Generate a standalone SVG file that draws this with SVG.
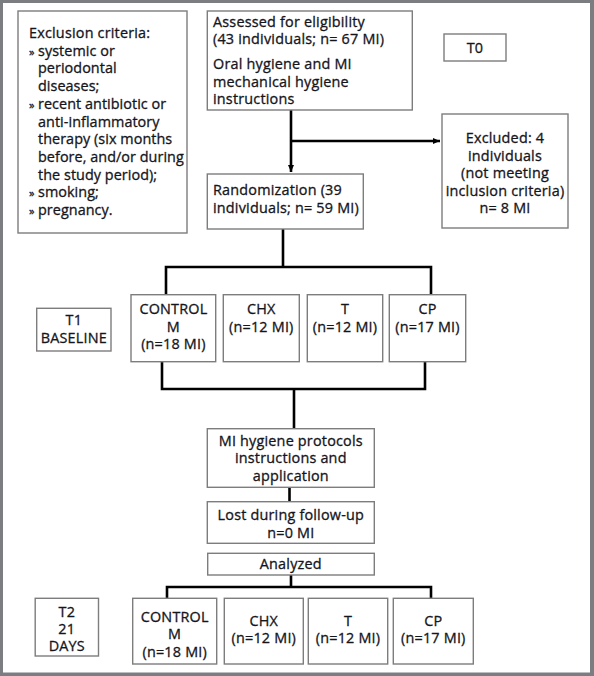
<svg xmlns="http://www.w3.org/2000/svg" width="594" height="676" viewBox="0 0 594 676">
<defs>
<style>
.bx{fill:#fff;stroke:#7d7d7d;stroke-width:1.4}
.t{font-family:"Open Sans","Noto Sans","DejaVu Sans",sans-serif;font-size:14.4px;fill:#15151c;stroke:#15151c;stroke-width:0.3px;font-weight:400;letter-spacing:0.2px}
.e{letter-spacing:0.05px}
.c{text-anchor:middle}
.ln{fill:none;stroke:#000;stroke-width:2.6}
</style>
<marker id="ah" markerWidth="8" markerHeight="8" refX="7" refY="4" orient="auto" markerUnits="userSpaceOnUse">
<path d="M0,1 L7,4 L0,7 Z" fill="#000"/>
</marker>
</defs>
<rect x="0" y="0" width="594" height="676" fill="#7b7d80"/>
<rect x="3" y="3" width="587" height="669.5" fill="#fff"/>

<g id="connectors">
<path class="ln" d="M291,110 V172" marker-end="url(#ah)"/>
<path class="ln" d="M291,141 H440" marker-end="url(#ah)"/>
<path class="ln" d="M283,229 V267 M166,295 V267 H431 V295"/>
<path class="ln" d="M162,362 V389 H425 V362 M294,389 V428.7"/>
<path class="ln" d="M289.5,487 V502"/>
<path class="ln" d="M291,575 V587 M167,598 V587 H431 V598"/>
</g>

<g id="exclusion">
<rect class="bx" x="18" y="11" width="169" height="222"/>
<text class="t" x="29" y="38" letter-spacing="0.4">Exclusion criteria:</text>
<text class="t e" x="29" y="55.7"><tspan font-size="11">»</tspan><tspan x="38">systemic or</tspan></text>
<text class="t e" x="38" y="73.4">periodontal</text>
<text class="t e" x="38" y="91.1">diseases;</text>
<text class="t e" x="29" y="108.8"><tspan font-size="11">»</tspan><tspan x="38">recent antibiotic or</tspan></text>
<text class="t e" x="38" y="126.5">anti-inflammatory</text>
<text class="t e" x="38" y="144.2">therapy (six months</text>
<text class="t e" x="38" y="161.9">before, and/or during</text>
<text class="t e" x="38" y="179.6">the study period);</text>
<text class="t e" x="29" y="197.3"><tspan font-size="11">»</tspan><tspan x="38">smoking;</tspan></text>
<text class="t e" x="29" y="215"><tspan font-size="11">»</tspan><tspan x="38">pregnancy.</tspan></text>
</g>

<g id="assessed">
<rect class="bx" x="207.3" y="11" width="205" height="99"/>
<text class="t" x="213" y="26.7" letter-spacing="0.4">Assessed for eligibility</text>
<text class="t" x="213" y="44.2" letter-spacing="0.35">(43 individuals; n= 67 MI)</text>
<text class="t" x="213" y="69">Oral hygiene and MI</text>
<text class="t" x="213" y="86.7">mechanical hygiene</text>
<text class="t" x="213" y="104.4">instructions</text>
</g>

<g id="t0">
<rect class="bx" x="444" y="34" width="62" height="27"/>
<text class="t c" x="475" y="52.6">T0</text>
</g>

<g id="excluded">
<rect class="bx" x="442" y="114" width="126" height="114"/>
<text class="t c" x="505" y="143.3">Excluded: 4</text>
<text class="t c" x="505" y="160.8">individuals</text>
<text class="t c" x="505" y="178.3">(not meeting</text>
<text class="t c" x="505" y="195.8" letter-spacing="0">inclusion criteria)</text>
<text class="t c" x="505" y="213.3">n= 8 MI</text>
</g>

<g id="randomization">
<rect class="bx" x="207.3" y="174" width="156" height="55"/>
<text class="t" x="213" y="195">Randomization (39</text>
<text class="t" x="213" y="212.7">individuals; n= 59 MI)</text>
</g>

<g id="t1">
<rect class="bx" x="36.7" y="308.3" width="74.3" height="42.7"/>
<text class="t c" x="73.8" y="325">T1</text>
<text class="t c" x="73.8" y="342.5">BASELINE</text>
</g>

<g id="control1">
<rect class="bx" x="131" y="294.7" width="84.7" height="67"/>
<text class="t c" x="173.4" y="314" letter-spacing="0.5">CONTROL</text>
<text class="t c" x="173.4" y="331.7">M</text>
<text class="t c" x="173.4" y="349.4">(n=18 MI)</text>
</g>
<g id="chx1">
<rect class="bx" x="223.3" y="294.7" width="76" height="67"/>
<text class="t c" x="261.3" y="314">CHX</text>
<text class="t c" x="261.3" y="331.7">(n=12 MI)</text>
</g>
<g id="t_1">
<rect class="bx" x="307.3" y="294.7" width="75.4" height="67"/>
<text class="t c" x="345" y="314">T</text>
<text class="t c" x="345" y="331.7">(n=12 MI)</text>
</g>
<g id="cp1">
<rect class="bx" x="389.3" y="294.7" width="76.4" height="67"/>
<text class="t c" x="427.5" y="314">CP</text>
<text class="t c" x="427.5" y="331.7">(n=17 MI)</text>
</g>

<g id="protocols">
<rect class="bx" x="207.3" y="428.7" width="167" height="58.6"/>
<text class="t c" x="290.8" y="445.5">MI hygiene protocols</text>
<text class="t c" x="290.8" y="463.2">instructions and</text>
<text class="t c" x="290.8" y="480.9">application</text>
</g>

<g id="lost">
<rect class="bx" x="207.3" y="501.7" width="167" height="41.6"/>
<text class="t c" x="290.8" y="520">Lost during follow-up</text>
<text class="t c" x="290.8" y="537.7">n=0 MI</text>
</g>

<g id="analyzed">
<rect class="bx" x="207.7" y="553.3" width="166.6" height="21.7"/>
<text class="t c" x="290.8" y="568.5">Analyzed</text>
</g>

<g id="t2">
<rect class="bx" x="35.2" y="598.3" width="63.3" height="57.7"/>
<text class="t c" x="66.8" y="616.7">T2</text>
<text class="t c" x="66.8" y="634">21</text>
<text class="t c" x="66.8" y="651.3">DAYS</text>
</g>

<g id="control2">
<rect class="bx" x="132.7" y="598.3" width="84" height="65.7"/>
<text class="t c" x="174.7" y="622" letter-spacing="0.5">CONTROL</text>
<text class="t c" x="174.7" y="639.3">M</text>
<text class="t c" x="174.7" y="656.6">(n=18 MI)</text>
</g>
<g id="chx2">
<rect class="bx" x="224.3" y="598.3" width="79" height="65.7"/>
<text class="t c" x="263.8" y="625.7">CHX</text>
<text class="t c" x="263.8" y="643">(n=12 MI)</text>
</g>
<g id="t_2">
<rect class="bx" x="308.3" y="598.3" width="79.4" height="65.7"/>
<text class="t c" x="348" y="625.7">T</text>
<text class="t c" x="348" y="643">(n=12 MI)</text>
</g>
<g id="cp2">
<rect class="bx" x="393.3" y="598.3" width="80" height="65.7"/>
<text class="t c" x="433.3" y="625.7">CP</text>
<text class="t c" x="433.3" y="643">(n=17 MI)</text>
</g>
</svg>
